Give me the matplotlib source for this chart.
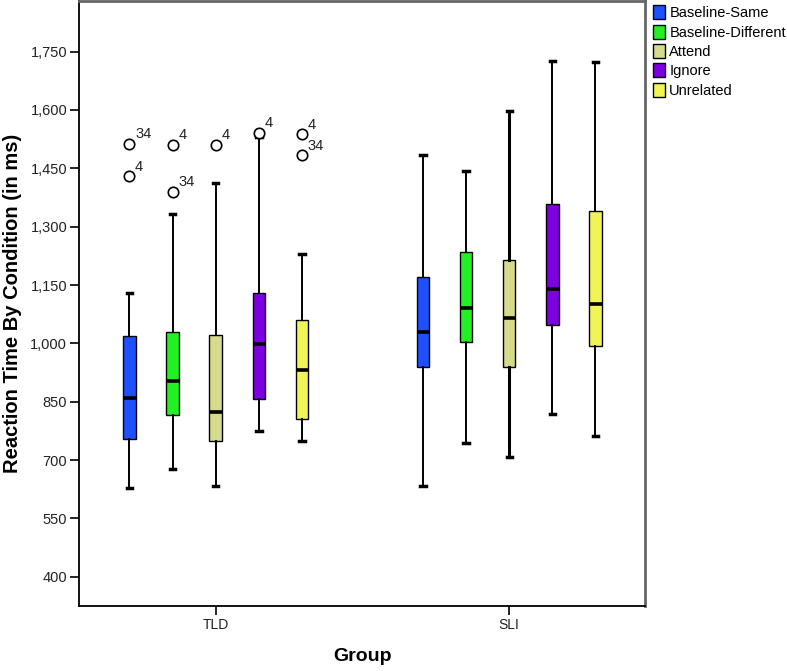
import matplotlib
matplotlib.use("Agg")
import matplotlib.pyplot as plt
from matplotlib.patches import Patch

plt.rcParams['font.family'] = ['Liberation Sans', 'DejaVu Sans']

# datos
groups = ['TLD', 'SLI']
conditions = ['Baseline-Same', 'Baseline-Different', 'Attend', 'Ignore', 'Unrelated']
colors = ['#1f50ff', '#22f022', '#d5da8c', '#7d00e0', '#f2f455']

tld_whislo = [629, 678, 634, 776, 750]
tld_q1 = [755, 817, 750, 858, 806]
tld_med = [860, 904, 824, 999, 932]
tld_q3 = [1020, 1030, 1022, 1130, 1061]
tld_whishi = [1130, 1333, 1413, 1530, 1231]

sli_whislo = [634, 745, 709, 819, 763]
sli_q1 = [940, 1004, 940, 1048, 992]
sli_med = [1028, 1092, 1066, 1141, 1102]
sli_q3 = [1171, 1236, 1215, 1359, 1339]
sli_whishi = [1485, 1444, 1598, 1727, 1722]

# valores atipicos (solo TLD) y su numero de caso
tld_out_vals = [[1513, 1429], [1511, 1390], [1511], [1542], [1537, 1483]]
tld_out_ids = [['34', '4'], ['4', '34'], ['4'], ['4'], ['4', '34']]

stats_by_group = {
    'TLD': (tld_whislo, tld_q1, tld_med, tld_q3, tld_whishi, tld_out_vals),
    'SLI': (sli_whislo, sli_q1, sli_med, sli_q3, sli_whishi, [[], [], [], [], []]),
}

fig = plt.figure(figsize=(7.87, 6.71), dpi=100)
ax = fig.add_axes([0.1004, 0.0969, 0.7192, 0.9016])

step = 0.147
width = 0.043
for g, name in enumerate(groups):
    lo, q1, med, q3, hi, outs = stats_by_group[name]
    for i in range(len(conditions)):
        pos = g + (i - 2) * step
        st = [{'whislo': lo[i], 'q1': q1[i], 'med': med[i], 'q3': q3[i],
               'whishi': hi[i], 'fliers': outs[i]}]
        lw = 2.2 if (name == 'SLI' and i == 2) else 1.4
        ax.bxp(st, positions=[pos], widths=width, patch_artist=True,
               showcaps=True, capwidths=0.018,
               boxprops=dict(facecolor=colors[i], edgecolor='black', linewidth=1),
               medianprops=dict(color='black', linewidth=2.6),
               whiskerprops=dict(color='black', linewidth=lw),
               capprops=dict(color='black', linewidth=2.5),
               flierprops=dict(marker='o', markerfacecolor='white',
                               markeredgecolor='black', markersize=7.5,
                               markeredgewidth=1.2))
        if name == 'TLD':
            for v, lab in zip(tld_out_vals[i], tld_out_ids[i]):
                ax.annotate(lab, (pos, v), xytext=(4, 4), textcoords='offset points',
                            fontsize=10.5, color='#222222')

ax.set_xlim(-0.466, 1.463)
ax.set_ylim(325, 1880)
ax.set_xticks([0, 1])
ax.set_xticklabels(groups, fontsize=10, color='#222222')
ax.set_yticks(range(400, 1751, 150))
ax.set_yticklabels([f'{v:,}' for v in range(400, 1751, 150)], fontsize=10.5, color='#222222')
ax.tick_params(direction='out', length=6.5, width=1.2, color='black', pad=2)

ax.spines['left'].set_linewidth(1.3)
ax.spines['bottom'].set_linewidth(1.3)
ax.spines['top'].set_color('#666666')
ax.spines['top'].set_linewidth(2)
ax.spines['right'].set_color('#666666')
ax.spines['right'].set_linewidth(2)

ax.set_xlabel('Group', fontsize=14, fontweight='bold', labelpad=12)
ax.set_ylabel('Reaction Time By Condition (in ms)', fontsize=14.5, fontweight='bold', labelpad=6)

handles = [Patch(facecolor=c, edgecolor='black', linewidth=1) for c in colors]
fig.legend(handles, conditions, loc='upper left', bbox_to_anchor=(0.818, 1.005),
           frameon=False, fontsize=10.5, handlelength=0.85, handleheight=1.1,
           handletextpad=0.3, labelspacing=0.3, borderaxespad=0.2)

fig.savefig('out.png', dpi=100)
